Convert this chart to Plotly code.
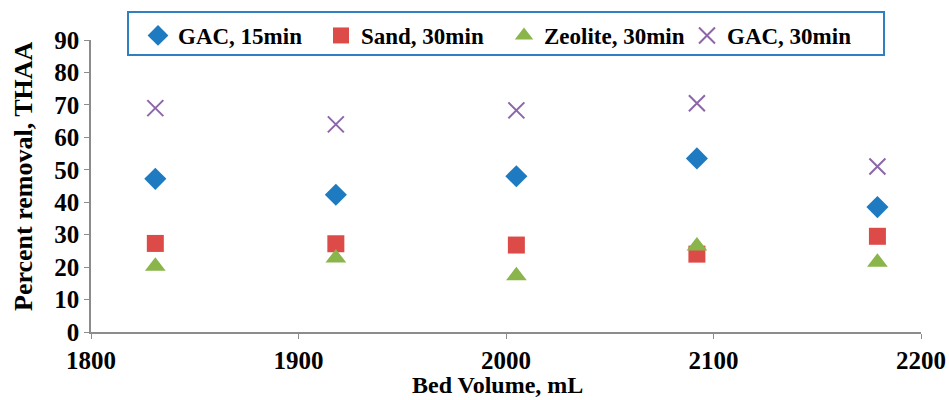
import plotly.graph_objects as go

# Bed volume (mL) at each sampling point
bed_volume = [1831, 1918, 2005, 2092, 2179]

# Percent removal of THAA for each filter medium / contact time
gac_15 = [47.2, 42.3, 48.0, 53.5, 38.5]
sand_30 = [27.3, 27.2, 26.8, 24.0, 29.5]
zeolite_30 = [20.3, 22.8, 17.3, 26.5, 21.5]
gac_30 = [69.0, 64.0, 68.3, 70.5, 51.0]

x_ticks = [1800, 1900, 2000, 2100, 2200]
y_ticks = [0, 10, 20, 30, 40, 50, 60, 70, 80, 90]

x_title = "Bed Volume, mL"
y_title = "Percent removal, THAA"

FONT = "Liberation Serif"

# Plot-area pixel geometry (949 x 400 canvas)
L, R, T, B = 91, 28, 40, 68
PW, PH = 949 - L - R, 400 - T - B


def px_to_paper_x(px):
    return (px - L) / PW


def px_to_paper_y(py):
    return (400 - B - py) / PH


series = [
    ("GAC, 15min", gac_15, "diamond", "#1f7bc1", 17),
    ("Sand, 30min", sand_30, "square", "#dd4b48", 17),
    ("Zeolite, 30min", zeolite_30, "triangle-up", "#8ab54a", 18),
    ("GAC, 30min", gac_30, "x-thin", "#8c66aa", 16),
]

fig = go.Figure()
for name, vals, sym, col, size in series:
    marker = dict(symbol=sym, size=size, color=col)
    if sym == "x-thin":
        marker["line"] = dict(color=col, width=2)
    else:
        marker["line"] = dict(width=0)
    fig.add_trace(go.Scatter(x=bed_volume, y=vals, mode="markers", name=f"<b>{name}</b>", marker=marker))

axis_common = dict(
    showgrid=False,
    zeroline=False,
    showline=True,
    linecolor="#8c8c8c",
    linewidth=1.5,
    ticks="outside",
    ticklen=5,
    tickcolor="#8c8c8c",
    tickfont=dict(family=FONT, size=25, color="black"),
    automargin=False,
)

fig.update_xaxes(
    range=[1800, 2200],
    tickvals=x_ticks,
    ticktext=[f"<b>{v}</b>" for v in x_ticks],
    **axis_common,
)
fig.update_yaxes(
    range=[0, 90],
    tickvals=y_ticks,
    ticktext=[f"<b>{v}</b>" for v in y_ticks],
    **axis_common,
)

# Axis titles
fig.add_annotation(
    text=f"<b>{x_title}</b>", xref="paper", yref="paper",
    x=px_to_paper_x(497), y=px_to_paper_y(385),
    showarrow=False, xanchor="center", yanchor="middle",
    font=dict(family=FONT, size=24, color="black"),
)
fig.add_annotation(
    text=f"<b>{y_title}</b>", xref="paper", yref="paper",
    x=px_to_paper_x(23), y=px_to_paper_y(176),
    showarrow=False, xanchor="center", yanchor="middle", textangle=-90,
    font=dict(family=FONT, size=26, color="black"),
)

# Legend frame (blue outline box spanning the top of the chart)
fig.add_shape(
    type="rect",
    xref="paper", yref="paper",
    x0=px_to_paper_x(128), x1=px_to_paper_x(884),
    y0=px_to_paper_y(55), y1=px_to_paper_y(12),
    line=dict(color="#2f7fc1", width=2),
    fillcolor="white",
    layer="above",
)

fig.update_layout(
    width=949,
    height=400,
    margin=dict(l=L, r=R, t=T, b=B),
    paper_bgcolor="white",
    plot_bgcolor="white",
    showlegend=True,
    legend=dict(
        orientation="h",
        x=px_to_paper_x(138),
        y=px_to_paper_y(14),
        xanchor="left",
        yanchor="top",
        borderwidth=0,
        bgcolor="rgba(0,0,0,0)",
        font=dict(family=FONT, size=23, color="black"),
        itemsizing="trace",
        entrywidth=138,
    ),
)

fig.write_html("out.html")
